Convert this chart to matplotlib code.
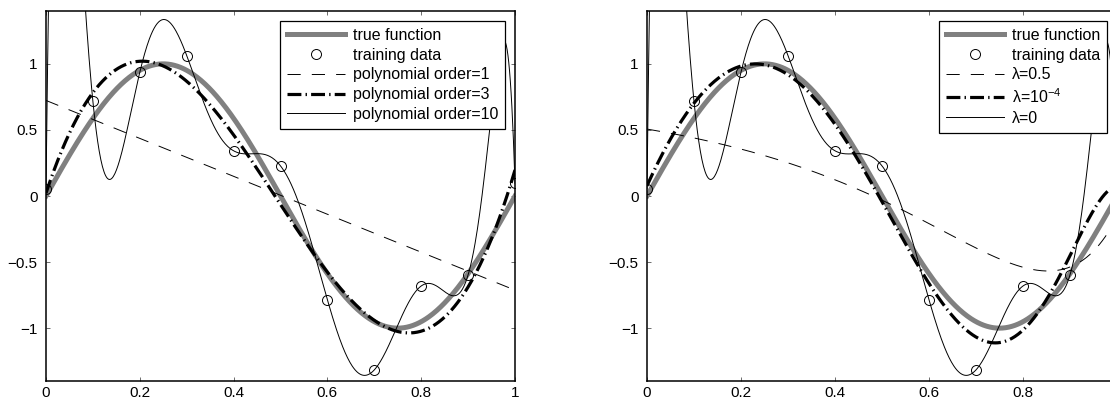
import numpy as np
import matplotlib
matplotlib.use("Agg")
import matplotlib.pyplot as plt

# ---- data ----
x_train = [0.0, 0.1, 0.2, 0.3, 0.4, 0.5, 0.6, 0.7, 0.8, 0.9, 1.0]
y_train = [0.056, 0.716, 0.937, 1.063, 0.342, 0.228, -0.785, -1.316, -0.681, -0.597, 0.096]
poly_orders = [1, 3, 10]
lambdas = [0.5, 1e-4, 0.0]
lam_labels = ["λ=0.5", "λ=10$^{-4}$", "λ=0"]
x_ticks = [0, 0.2, 0.4, 0.6, 0.8, 1]
x_ticklabels = ["0", "0.2", "0.4", "0.6", "0.8", "1"]
y_ticks = [-1, -0.5, 0, 0.5, 1]
y_ticklabels = ["\u22121", "\u22120.5", "0", "0.5", "1"]

plt.rcParams["font.family"] = ["Liberation Sans", "DejaVu Sans"]
plt.rcParams["mathtext.fontset"] = "custom"
plt.rcParams["mathtext.rm"] = "Liberation Sans"
plt.rcParams["mathtext.it"] = "Liberation Sans"
plt.rcParams["lines.scale_dashes"] = False

xt = np.asarray(x_train)
yt = np.asarray(y_train)
xg = np.linspace(0, 1, 600)
y_true = np.sin(2 * np.pi * xg)


def ridge(M, lam):
    """Least-squares polynomial fit of order M with L2 penalty lam."""
    Phi = np.vander(xt, M + 1, increasing=True)
    if lam == 0:
        w = np.linalg.lstsq(Phi, yt, rcond=None)[0]
    else:
        A = np.vstack([Phi, np.sqrt(lam) * np.eye(M + 1)])
        b = np.concatenate([yt, np.zeros(M + 1)])
        w = np.linalg.lstsq(A, b, rcond=None)[0]
    return np.vander(xg, M + 1, increasing=True) @ w


fig = plt.figure(figsize=(11.1, 4), dpi=100)
ax1 = fig.add_axes([46 / 1110, 19 / 400, 469 / 1110, 370 / 400])
ax2 = fig.add_axes([647 / 1110, 19 / 400, 470 / 1110, 370 / 400])

grey = "#808080"
dashdot = (0, (10, 3, 1, 3))
dashed = (0, (9.5, 8))
styles = [dict(ls=dashed, lw=0.7), dict(ls=dashdot, lw=2.3), dict(ls="-", lw=0.7)]


def common(ax):
    ax.plot(xg, y_true, color=grey, lw=3.6, label="true function", zorder=2)
    ax.plot(xt, yt, "o", mfc="none", mec="black", ms=7.2, mew=0.7,
            label="training data", zorder=5)


common(ax1)
for M, st in zip(poly_orders, styles):
    ax1.plot(xg, ridge(M, 0.0), color="black", label=f"polynomial order={M}",
             zorder=3, **st)

common(ax2)
for lam, st, lab in zip(lambdas, styles, lam_labels):
    ax2.plot(xg, ridge(10, lam), color="black", label=lab, zorder=3, **st)

for ax in (ax1, ax2):
    ax.set_xlim(0, 1)
    ax.set_ylim(-1.4, 1.4)
    ax.set_xticks(x_ticks)
    labels = list(x_ticklabels)
    if ax is ax2:
        labels[-1] = ""  # falls outside the picture in the reference
    ax.set_xticklabels(labels)
    ax.set_yticks(y_ticks)
    ax.set_yticklabels(y_ticklabels)
    ax.tick_params(direction="in", top=True, right=True, length=3, width=0.6,
                   labelsize=11, color="#555555")
    ax.tick_params(axis="x", pad=3.5)
    ax.tick_params(axis="y", pad=6)
    for s in ax.spines.values():
        s.set_linewidth(1.1)
    leg = ax.legend(loc="upper right", fontsize=11.5, frameon=True, fancybox=False,
                    edgecolor="black", framealpha=1, borderaxespad=0.6,
                    handlelength=3.6, handletextpad=0.5, labelspacing=0.3,
                    borderpad=0.45)
    leg.get_frame().set_linewidth(0.9)

fig.savefig("out.png", dpi=100)
